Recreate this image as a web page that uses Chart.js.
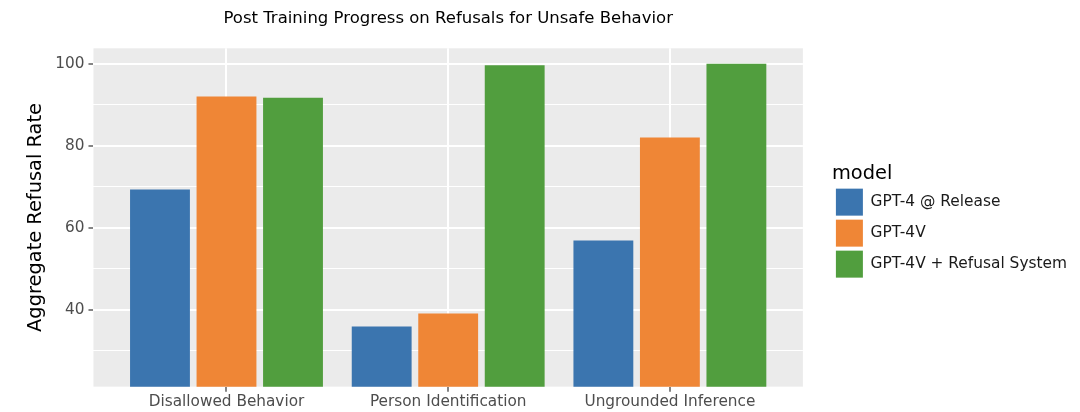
<!DOCTYPE html>
<html>
<head>
<meta charset="utf-8">
<script src="https://cdn.jsdelivr.net/npm/chart.js@4.4.0/dist/chart.umd.min.js"></script>
<style>
  body { margin: 0; background: #fff; }
  #wrap { width: 1080px; height: 412px; }
</style>
</head>
<body>
<div id="wrap"><canvas id="myChart" width="1080" height="412"></canvas></div>
<script>
// data
const categories = ["Disallowed Behavior", "Person Identification", "Ungrounded Inference"];
const models = ["GPT-4 @ Release", "GPT-4V", "GPT-4V + Refusal System"];
const gpt4Release = [69.3, 35.9, 56.9];
const gpt4v = [92.0, 39.1, 82.0];
const gpt4vRefusal = [91.7, 99.6, 100.0];
const yTicks = [30, 40, 50, 60, 70, 80, 90, 100];
const colors = ["#3B75AF", "#EF8636", "#519E3E"];

const font = "'DejaVu Sans', sans-serif";

// grey panel behind the plot, ggplot style
const panelBg = {
  id: "panelBg",
  beforeDraw(chart) {
    const a = chart.chartArea;
    const ctx = chart.ctx;
    ctx.save();
    ctx.fillStyle = "#EBEBEB";
    ctx.fillRect(a.left, a.top, a.right - a.left, a.bottom - a.top);
    ctx.restore();
  }
};

function series(values) {
  return values.map((v, i) => ({ x: i + 1, y: v }));
}

const isMajor = v => v % 20 === 0;

let graph = new Chart("myChart", {
  type: "bar",
  data: {
    datasets: [
      { label: models[0], data: series(gpt4Release), backgroundColor: colors[0] },
      { label: models[1], data: series(gpt4v), backgroundColor: colors[1] },
      { label: models[2], data: series(gpt4vRefusal), backgroundColor: colors[2] }
    ]
  },
  options: {
    responsive: false,
    animation: false,
    datasets: { bar: { categoryPercentage: 0.9, barPercentage: 0.9 } },
    layout: { padding: { left: 14, right: 3, top: 0, bottom: 0 } },
    scales: {
      x: {
        type: "linear",
        min: 0.4,
        max: 3.6,
        offset: false,
        afterBuildTicks: s => { s.ticks = categories.map((c, i) => ({ value: i + 1 })); },
        ticks: {
          callback: v => categories[v - 1],
          autoSkip: false,
          maxRotation: 0,
          padding: 1,
          color: "#4D4D4D",
          font: { family: font, size: 15.3 }
        },
        grid: { offset: false, color: "#FFFFFF", lineWidth: 2, tickColor: "#333333", tickLength: 5, tickWidth: 1.2 },
        border: { display: false }
      },
      y: {
        min: 21.25,
        max: 103.75,
        afterBuildTicks: s => { s.ticks = yTicks.map(v => ({ value: v })); },
        ticks: {
          callback: v => isMajor(v) ? v : "",
          padding: 4,
          color: "#4D4D4D",
          font: { family: font, size: 15.3 }
        },
        grid: {
          color: "#FFFFFF",
          lineWidth: c => isMajor(c.tick.value) ? 2 : 1,
          tickColor: c => isMajor(c.tick.value) ? "#333333" : "rgba(0,0,0,0)",
          tickLength: 5,
          tickWidth: 1.2
        },
        border: { display: false },
        title: {
          display: true,
          text: "Aggregate Refusal Rate",
          color: "#000000",
          padding: { top: 10, bottom: 4 },
          font: { family: font, size: 19.4 }
        }
      },
      // empty axis, only to leave a gap between panel and legend
      gap: {
        type: "linear",
        position: "right",
        display: true,
        ticks: { display: false },
        grid: { display: false },
        border: { display: false },
        afterFit: s => { s.width = 29; }
      }
    },
    plugins: {
      title: {
        display: true,
        fullSize: false,
        text: "Post Training Progress on Refusals for Unsafe Behavior",
        color: "#000000",
        padding: { top: 9, bottom: 19.5 },
        font: { family: font, size: 16.5, weight: "normal" }
      },
      legend: {
        position: "right",
        align: "center",
        maxWidth: 300,
        title: {
          display: true,
          text: "model",
          position: "start",
          color: "#000000",
          padding: { top: 34, bottom: -3 },
          font: { family: font, size: 19.4 }
        },
        labels: {
          boxWidth: 27,
          boxHeight: 27,
          padding: 4,
          color: "#1A1A1A",
          font: { family: font, size: 15.4 }
        }
      },
      tooltip: { enabled: false }
    }
  },
  plugins: [panelBg]
});
</script>
</body>
</html>
